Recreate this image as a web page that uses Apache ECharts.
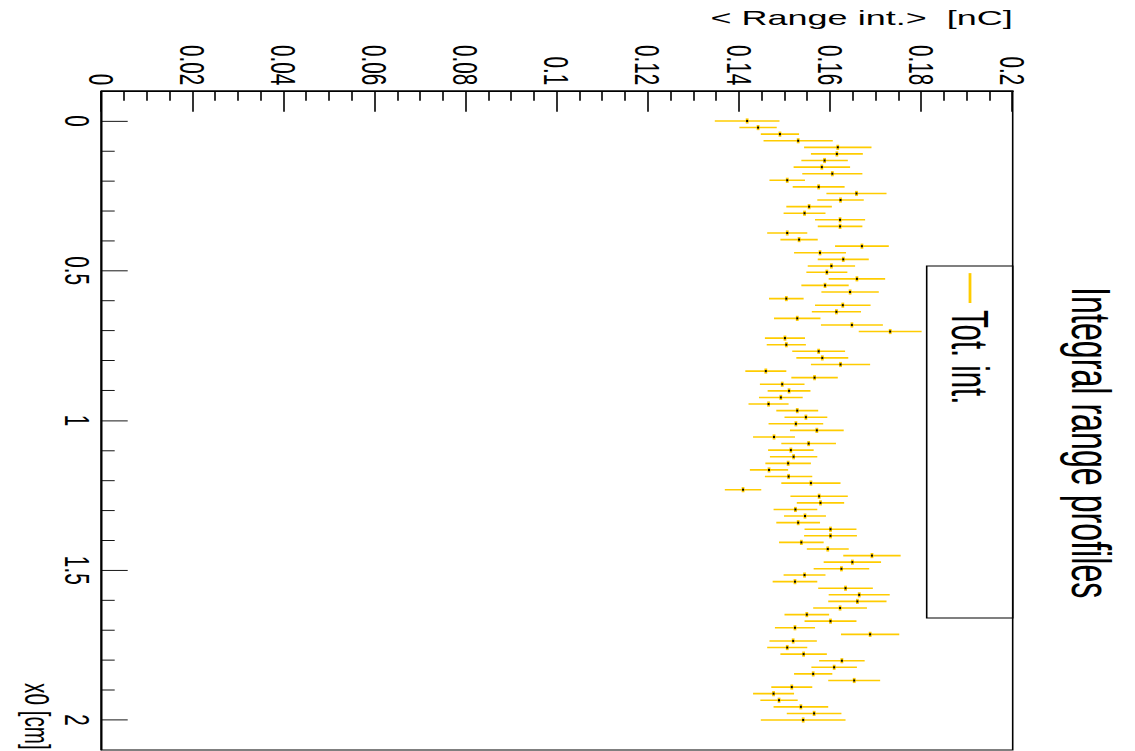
<!DOCTYPE html>
<html>
<head>
<meta charset="utf-8">
<script src="https://cdn.jsdelivr.net/npm/echarts@6/dist/echarts.min.js"></script>
<style>
  html, body { margin: 0; padding: 0; width: 1135px; height: 751px; overflow: hidden; background: #fff; }
  /* The pad is laid out upright, then turned a quarter clockwise and squeezed along its width */
  #pad {
    position: absolute; left: 0; top: 0;
    width: 1306px; height: 1135px;
    transform-origin: 0 0;
    transform: translateX(1135px) rotate(90deg) scaleX(0.575);
  }
</style>
</head>
<body>
<div id="pad"></div>
<script>
// Bin centres along x0 [cm]
const x0Bins = [
  0.000, 0.022, 0.044, 0.066, 0.088, 0.110, 0.132, 0.154, 0.176, 0.198,
  0.220, 0.242, 0.264, 0.286, 0.308, 0.330, 0.352, 0.374, 0.396, 0.418,
  0.440, 0.462, 0.484, 0.505, 0.527, 0.549, 0.571, 0.593, 0.615, 0.637,
  0.659, 0.681, 0.703, 0.725, 0.747, 0.769, 0.791, 0.813, 0.835, 0.857,
  0.879, 0.901, 0.923, 0.945, 0.967, 0.989, 1.011, 1.033, 1.055, 1.077,
  1.099, 1.121, 1.143, 1.165, 1.187, 1.209, 1.231, 1.253, 1.275, 1.297,
  1.319, 1.341, 1.363, 1.385, 1.407, 1.429, 1.451, 1.473, 1.495, 1.516,
  1.538, 1.560, 1.582, 1.604, 1.626, 1.648, 1.670, 1.692, 1.714, 1.736,
  1.758, 1.780, 1.802, 1.824, 1.846, 1.868, 1.890, 1.912, 1.934, 1.956,
  1.978, 2.000
];

// Profile mean of the range integral [nC] per bin
const rangeInt = [
  0.1417, 0.1441, 0.1489, 0.1529, 0.1616, 0.1614, 0.1587, 0.1581, 0.1604, 0.1505,
  0.1574, 0.1657, 0.1622, 0.1553, 0.1543, 0.1621, 0.1621, 0.1505, 0.1531, 0.1669,
  0.1577, 0.1628, 0.1602, 0.1592, 0.1658, 0.1588, 0.1643, 0.1503, 0.1627, 0.1613,
  0.1527, 0.1647, 0.1731, 0.1500, 0.1503, 0.1574, 0.1582, 0.1622, 0.1458, 0.1565,
  0.1494, 0.1509, 0.1491, 0.1464, 0.1527, 0.1546, 0.1524, 0.1570, 0.1476, 0.1552,
  0.1513, 0.1519, 0.1507, 0.1465, 0.1508, 0.1557, 0.1408, 0.1575, 0.1578, 0.1523,
  0.1544, 0.1529, 0.1600, 0.1600, 0.1536, 0.1594, 0.1691, 0.1648, 0.1624, 0.1543,
  0.1522, 0.1633, 0.1663, 0.1659, 0.1621, 0.1548, 0.1600, 0.1522, 0.1687, 0.1518,
  0.1505, 0.1541, 0.1625, 0.1608, 0.1562, 0.1652, 0.1515, 0.1475, 0.1487, 0.1535,
  0.1564, 0.1540
];

// Error on the mean [nC] per bin
const rangeErr = [
  0.0071, 0.0041, 0.0042, 0.0076, 0.0074, 0.0057, 0.0051, 0.0062, 0.0066, 0.0039,
  0.0057, 0.0066, 0.0051, 0.0050, 0.0046, 0.0055, 0.0049, 0.0044, 0.0041, 0.0059,
  0.0057, 0.0056, 0.0052, 0.0045, 0.0062, 0.0052, 0.0063, 0.0038, 0.0061, 0.0054,
  0.0051, 0.0068, 0.0069, 0.0044, 0.0043, 0.0058, 0.0057, 0.0065, 0.0045, 0.0051,
  0.0049, 0.0047, 0.0048, 0.0044, 0.0046, 0.0047, 0.0060, 0.0059, 0.0046, 0.0060,
  0.0050, 0.0052, 0.0050, 0.0042, 0.0052, 0.0065, 0.0040, 0.0063, 0.0052, 0.0048,
  0.0046, 0.0048, 0.0057, 0.0058, 0.0049, 0.0046, 0.0063, 0.0063, 0.0061, 0.0046,
  0.0049, 0.0060, 0.0067, 0.0064, 0.0059, 0.0049, 0.0057, 0.0044, 0.0064, 0.0052,
  0.0044, 0.0051, 0.0050, 0.0050, 0.0042, 0.0057, 0.0045, 0.0045, 0.0041, 0.0060,
  0.0060, 0.0093
];

const xMajorTicks = [0, 0.5, 1, 1.5, 2];
const xMinorTicks = [0.1, 0.2, 0.3, 0.4, 0.6, 0.7, 0.8, 0.9, 1.1, 1.2, 1.3, 1.4,
                     1.6, 1.7, 1.8, 1.9];

const titleText = 'Integral range profiles';
const xTitle = 'x0 [cm]';
const yTitle = '< Range int.>  [nC]';
const legendLabel = 'Tot. int.';

const FONT = '"Liberation Sans", Arial, Helvetica, sans-serif';
const GOLD = '#ffcc00';

const points = x0Bins.map((x, i) => [x, rangeInt[i], rangeErr[i]]);

const chart = echarts.init(document.getElementById('pad'), null,
  { renderer: 'svg', width: 1306, height: 1135 });

const G = { left: 158.3, right: 1.7, top: 122.3, bottom: 101.7 };

chart.setOption({
  animation: false,
  backgroundColor: '#fff',
  grid: {
    left: G.left, right: G.right, top: G.top, bottom: G.bottom,
    show: true, borderColor: '#000', borderWidth: 1.6, backgroundColor: 'transparent'
  },
  xAxis: [
    {
      type: 'value', min: -0.1, max: 2.1, position: 'bottom',
      axisLine: { show: true, onZero: false, lineStyle: { color: '#000', width: 1.6 } },
      axisTick: { show: true, inside: true, length: 26, customValues: xMajorTicks,
                  lineStyle: { color: '#000', width: 1.6 } },
      axisLabel: { show: true, customValues: xMajorTicks, margin: 6, color: '#000',
                   fontSize: 36, fontFamily: FONT },
      splitLine: { show: false }
    },
    {
      type: 'value', min: -0.1, max: 2.1, position: 'bottom',
      axisLine: { show: false },
      axisTick: { show: true, inside: true, length: 13, customValues: xMinorTicks,
                  lineStyle: { color: '#000', width: 1.6 } },
      axisLabel: { show: false },
      splitLine: { show: false }
    }
  ],
  yAxis: {
    type: 'value', min: 0, max: 0.2, interval: 0.02, position: 'left',
    axisLine: { show: true, onZero: false, lineStyle: { color: '#000', width: 2.6 } },
    axisTick: { show: true, inside: true, length: 36, lineStyle: { color: '#000', width: 1.6 } },
    minorTick: { show: true, splitNumber: 4, length: 17, lineStyle: { color: '#000', width: 1.6 } },
    axisLabel: { show: true, margin: 10, color: '#000', fontSize: 36, fontFamily: FONT },
    splitLine: { show: false },
    minorSplitLine: { show: false }
  },
  series: [{
    name: legendLabel,
    type: 'custom',
    silent: true,
    xAxisIndex: 0,
    yAxisIndex: 0,
    data: points,
    encode: { x: 0, y: 1 },
    renderItem: function (params, api) {
      const x = api.value(0), y = api.value(1), e = api.value(2);
      const lo = api.coord([x, y - e]);
      const hi = api.coord([x, y + e]);
      const c = api.coord([x, y]);
      return {
        type: 'group',
        children: [
          { type: 'line', shape: { x1: lo[0], y1: lo[1], x2: hi[0], y2: hi[1] },
            style: { stroke: GOLD, lineWidth: 2.8 } },
          { type: 'line', shape: { x1: c[0] - 4.5, y1: c[1], x2: c[0] + 4.5, y2: c[1] },
            style: { stroke: GOLD, lineWidth: 2.8 } },
          { type: 'rect', shape: { x: c[0] - 1.8, y: c[1] - 1, width: 3.6, height: 2 },
            style: { fill: '#000' } }
        ]
      };
    }
  }],
  graphic: [
    { type: 'text', x: 770, y: 44,
      style: { text: titleText, font: '56px ' + FONT, fill: '#000',
               textAlign: 'center', textVerticalAlign: 'middle', align: 'center', verticalAlign: 'middle' } },
    { type: 'text', x: 31, y: G.top, rotation: Math.PI / 2,
      style: { text: yTitle, font: '36px ' + FONT, fill: '#000',
               textAlign: 'right', textVerticalAlign: 'middle', align: 'right', verticalAlign: 'middle' } },
    { type: 'text', x: 1304, y: 1097,
      style: { text: xTitle, font: '36px ' + FONT, fill: '#000',
               textAlign: 'right', textVerticalAlign: 'middle', align: 'right', verticalAlign: 'middle' } },
    { type: 'rect', z: 10, shape: { x: 462.6, y: G.top, width: 612.2, height: 86 },
      style: { fill: '#fff', stroke: '#000', lineWidth: 1.6 } },
    { type: 'line', z: 11, shape: { x1: 475, y1: 165, x2: 527, y2: 165 },
      style: { stroke: GOLD, lineWidth: 2.8 } },
    { type: 'text', z: 11, x: 539, y: 165,
      style: { text: legendLabel, font: '51px ' + FONT, fill: '#000',
               textAlign: 'left', textVerticalAlign: 'middle', align: 'left', verticalAlign: 'middle' } }
  ]
});
</script>
</body>
</html>
